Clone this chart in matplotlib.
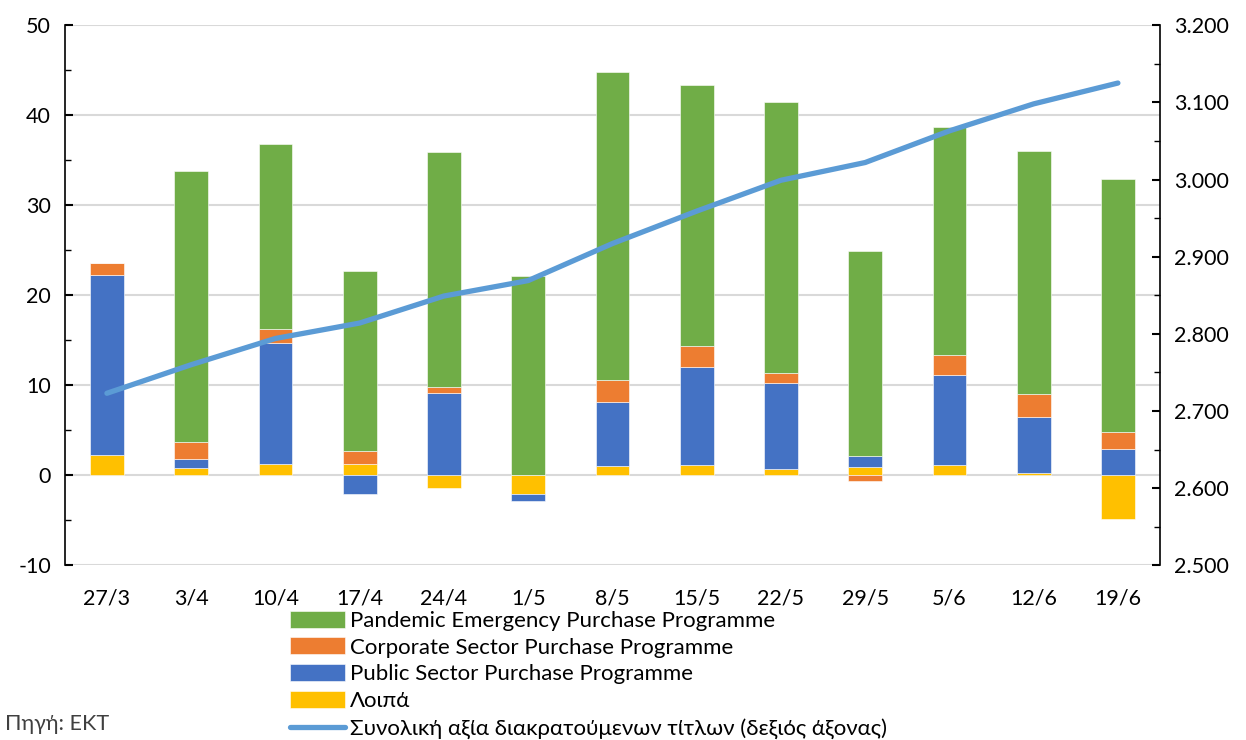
import numpy as np
import matplotlib.pyplot as plt
from matplotlib.ticker import MultipleLocator, FuncFormatter

plt.rcParams['font.family'] = ['Lato', 'DejaVu Sans']
plt.rcParams['axes.unicode_minus'] = False

dates = ['27/3', '3/4', '10/4', '17/4', '24/4', '1/5', '8/5', '15/5',
         '22/5', '29/5', '5/6', '12/6', '19/6']

# weekly flows (bn EUR)
loipa = [2.3, 0.8, 1.3, 1.3, -1.4, -2.1, 1.0, 1.1, 0.7, 0.9, 1.2, 0.3, -4.8]
pspp = [20.0, 1.0, 13.4, -2.1, 9.1, -0.7, 7.1, 10.9, 9.6, 1.3, 9.9, 6.2, 2.9]
cspp = [1.3, 1.9, 1.6, 1.4, 0.7, 0.0, 2.5, 2.4, 1.1, -0.6, 2.3, 2.5, 1.9]
pepp = [0.0, 30.1, 20.5, 20.0, 26.1, 22.1, 34.2, 28.9, 30.1, 22.7, 25.3, 27.0, 28.1]

# total holdings (right axis)
total = [2.723, 2.760, 2.794, 2.814, 2.849, 2.869, 2.917, 2.959,
         2.999, 3.022, 3.063, 3.098, 3.125]

series = [
    (loipa, '#FFC000', 'Λοιπά'),
    (pspp, '#4472C4', 'Public Sector Purchase Programme'),
    (cspp, '#ED7D31', 'Corporate Sector Purchase Programme'),
    (pepp, '#70AD47', 'Pandemic Emergency Purchase Programme'),
]

fig = plt.figure(figsize=(12.46, 7.40), dpi=100)
ax = fig.add_axes([0.052, 0.236, 0.879, 0.73])
x = np.arange(len(dates))

pos_base = np.zeros(len(dates))
neg_base = np.zeros(len(dates))
handles = {}
for vals, col, lab in series:
    v = np.array(vals)
    bottom = np.where(v >= 0, pos_base, neg_base)
    b = ax.bar(x, v, 0.4, bottom=bottom, color=col, label=lab,
               edgecolor='white', linewidth=0.4, zorder=2)
    handles[lab] = b
    pos_base = pos_base + np.where(v >= 0, v, 0)
    neg_base = neg_base + np.where(v < 0, v, 0)

ax.set_ylim(-10, 50)
ax.set_xlim(-0.5, 12.5)
ax.yaxis.set_major_locator(MultipleLocator(10))
ax.yaxis.set_minor_locator(MultipleLocator(5))
ax.grid(axis='y', color='#D9D9D9', linewidth=1.5, zorder=0)
ax.set_axisbelow(True)
ax.set_xticks(x)
ax.set_xticklabels(dates)
ax.tick_params(axis='x', length=0, pad=17, labelsize=15.5)
ax.tick_params(axis='y', which='both', direction='in', labelsize=15.5, pad=10)
ax.tick_params(axis='y', which='major', length=6, width=1.5)
ax.tick_params(axis='y', which='minor', length=4, width=1)
for s in ['top', 'bottom', 'right']:
    ax.spines[s].set_visible(False)
ax.spines['left'].set_linewidth(1.2)

ax2 = ax.twinx()
line, = ax2.plot(x, total, color='#5B9BD5', linewidth=3.8,
                 solid_capstyle='round',
                 label='Συνολική αξία διακρατούμενων τίτλων (δεξιός άξονας)')
ax2.set_ylim(2.5, 3.2)
ax2.yaxis.set_major_locator(MultipleLocator(0.1))
ax2.yaxis.set_minor_locator(MultipleLocator(0.05))
ax2.yaxis.set_major_formatter(FuncFormatter(lambda v, p: f'{v:.3f}'))
ax2.tick_params(axis='y', which='both', direction='in', labelsize=15.5, pad=10)
ax2.tick_params(axis='y', which='major', length=6, width=1.5)
ax2.tick_params(axis='y', which='minor', length=4, width=1)
for s in ['top', 'bottom', 'left']:
    ax2.spines[s].set_visible(False)
ax2.spines['right'].set_linewidth(1.2)

order = ['Pandemic Emergency Purchase Programme',
         'Corporate Sector Purchase Programme',
         'Public Sector Purchase Programme', 'Λοιπά']
leg = fig.legend([handles[k] for k in order] + [line],
                 order + [line.get_label()],
                 loc='upper left', bbox_to_anchor=(0.233, 0.175),
                 frameon=False, fontsize=16, handlelength=2.45,
                 handleheight=0.8, handletextpad=0.25, labelspacing=0.3,
                 borderaxespad=0, borderpad=0)

fig.text(0.004, 0.013, 'Πηγή: ΕΚΤ', fontsize=15.5, color='#404040')

fig.savefig('out.png', dpi=100)
